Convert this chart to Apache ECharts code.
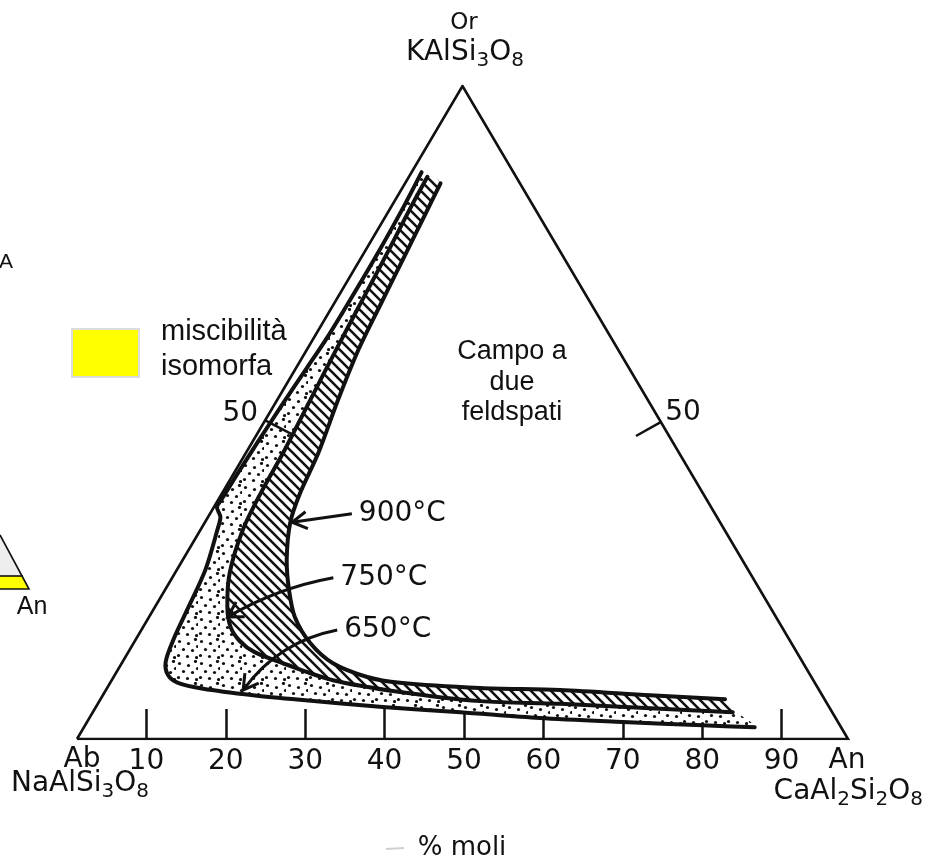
<!DOCTYPE html>
<html><head><meta charset="utf-8">
<script src="https://cdn.jsdelivr.net/npm/echarts@6/dist/echarts.min.js"></script>
<style>html,body{margin:0;padding:0;background:#fff}#c{width:930px;height:861px}</style>
</head><body><div id="c"></div>
<script>
// Ternary compositions given as [An %, Or %]  (Ab % = 100 - An - Or)
const vertexAb = [0, 0];
const vertexAn = [100, 0];
const vertexOr = [0, 100];

// solvus curves (limits of the two-feldspar field) at three temperatures
const solvus650 = [[1.3,86.8],[1.6,81.8],[1.8,74.9],[1.8,67.2],[1.7,61.4],[1.4,56.8],[1.0,51.1],[0.7,45.3],[0.5,40.4],[0.4,36.6],[0.4,35.5],[1.6,34.0],[2.2,32.0],[3.7,25.9],[4.4,19.8],[4.9,15.2],[5.6,11.8],[6.9,9.8],[8.8,8.6],[12.5,7.7],[19.5,6.7],[25.9,6.0],[37.2,4.9],[47.7,4.1],[58.4,3.2],[69.5,2.6],[80.1,2.1],[87.0,1.8]];
const solvus750 = [[2.4,86.1],[2.6,81.0],[3.0,74.9],[3.4,67.2],[3.8,59.6],[4.3,51.9],[4.8,44.3],[5.0,37.7],[5.5,32.0],[7.1,25.4],[9.4,20.2],[11.3,17.2],[13.6,15.0],[16.4,13.3],[20.9,11.6],[28.7,9.0],[38.3,7.2],[49.4,5.8],[60.0,5.4],[72.0,4.7],[83.0,4.1]];
const solvus900 = [[4.6,85.1],[5.0,80.2],[5.5,74.1],[6.1,66.5],[6.7,59.6],[7.9,51.9],[9.4,43.8],[10.1,37.7],[11.1,33.1],[13.5,27.4],[16.1,22.8],[18.9,18.7],[22.9,14.7],[27.4,11.6],[32.9,9.5],[37.6,8.6],[48.4,7.8],[58.9,7.5],[71.0,6.7],[81.0,6.1]];

// base scale (% An) tick labels
const baseTicks = [10, 20, 30, 40, 50, 60, 70, 80, 90];

// 50 % marks on the two other sides: [start on edge, end inside]
const edgeTickLabels = ['50', '50'];
const edgeTickFrom = [[0, 48.8], [51.4, 48.5]];
const edgeTickTo = [[4.5, 46.7], [49.3, 46.4]];

// temperature labels with arrows: [start, tip]
const arrowLabels = ['900°C', '750°C', '650°C'];
const arrowFrom = [[18.4, 34.5], [20.9, 24.7], [25.4, 16.7]];
const arrowTo = [[11.3, 33.2], [10.2, 18.7], [17.8, 7.5]];

// ---------------------------------------------------------------
function toXY(p) { return [p[0] + p[1] / 2, p[1]]; }

function makeHatch() {
  const s = 10, c = document.createElement('canvas');
  c.width = s; c.height = s;
  const g = c.getContext('2d');
  g.fillStyle = '#fff'; g.fillRect(0, 0, s, s);
  g.strokeStyle = '#111'; g.lineWidth = 2.6;
  g.beginPath();
  g.moveTo(-1, -1); g.lineTo(s + 1, s + 1);
  g.moveTo(-1, s - 1); g.lineTo(1, s + 1);
  g.moveTo(s - 1, -1); g.lineTo(s + 1, 1);
  g.stroke();
  return c;
}
function makeStipple() {
  const s = 22, c = document.createElement('canvas');
  c.width = s; c.height = s;
  const g = c.getContext('2d');
  g.fillStyle = '#fff'; g.fillRect(0, 0, s, s);
  g.fillStyle = '#111';
  [[3,3],[12,5],[19,1],[7,11],[16,12],[2,17],[11,18],[20,19],[21,8]].forEach(function (d) {
    g.beginPath(); g.arc(d[0] + 0.5, d[1] + 0.5, 1.6, 0, Math.PI * 2); g.fill();
  });
  return c;
}
const hatchImg = makeHatch();
const stippleImg = makeStipple();

const FONT = '"DejaVu Sans", sans-serif';
const ARIAL = '"Liberation Sans", Arial, sans-serif';
const INK = '#111';

function band(a, b, img) {
  return function (params, api) {
    const pts = a.concat(b.slice().reverse()).map(function (p) { return api.coord(toXY(p)); });
    return { type: 'polygon', shape: { points: pts, smooth: 0.3 },
      style: { fill: { image: img, repeat: 'repeat' }, stroke: null } };
  };
}

function curvesRender(params, api) {
  const children = [solvus650, solvus750, solvus900].map(function (c) {
    return { type: 'polyline', shape: { points: c.map(function (p) { return api.coord(toXY(p)); }), smooth: 0.3 },
      style: { stroke: INK, lineWidth: 4, fill: null, lineCap: 'round', lineJoin: 'round' } };
  });
  return { type: 'group', children: children };
}

const arrowBend = [0, -10, -22];
function arrowsRender(params, api) {
  const ch = [];
  arrowLabels.forEach(function (lab, i) {
    const s = api.coord(toXY(arrowFrom[i])), e = api.coord(toXY(arrowTo[i]));
    const dx = e[0] - s[0], dy = e[1] - s[1], L = Math.hypot(dx, dy);
    const nx = dy / L, ny = -dx / L;
    const cx = (s[0] + e[0]) / 2 + nx * arrowBend[i], cy = (s[1] + e[1]) / 2 + ny * arrowBend[i];
    const tx = e[0] - cx, ty = e[1] - cy, tl = Math.hypot(tx, ty), ux = tx / tl, uy = ty / tl;
    const a = Math.PI / 6, hl = 17, ca = Math.cos(a), sa = Math.sin(a);
    const b1 = [e[0] - hl * (ux * ca - uy * sa), e[1] - hl * (uy * ca + ux * sa)];
    const b2 = [e[0] - hl * (ux * ca + uy * sa), e[1] - hl * (uy * ca - ux * sa)];
    ch.push({ type: 'bezierCurve', shape: { x1: s[0], y1: s[1], x2: e[0], y2: e[1], cpx1: cx, cpy1: cy },
      style: { stroke: INK, lineWidth: 3, fill: null } });
    ch.push({ type: 'polyline', shape: { points: [b1, e, b2] }, style: { stroke: INK, lineWidth: 3, fill: null } });
    ch.push({ type: 'text', x: s[0] + 7, y: s[1],
      style: { text: lab, font: '28px ' + FONT, fill: INK, align: 'left', verticalAlign: 'middle' } });
  });
  return { type: 'group', children: ch };
}

function edgeTicksRender(params, api) {
  const ch = [];
  edgeTickLabels.forEach(function (lab, i) {
    const s = api.coord(toXY(edgeTickFrom[i])), e = api.coord(toXY(edgeTickTo[i]));
    ch.push({ type: 'line', shape: { x1: s[0], y1: s[1], x2: e[0], y2: e[1] }, style: { stroke: INK, lineWidth: 2.5 } });
    const left = i === 0;
    ch.push({ type: 'text', x: s[0] + (left ? -7 : 5), y: s[1] + (left ? -7 : -10),
      style: { text: lab, font: '28px ' + FONT, fill: INK, align: left ? 'right' : 'left', verticalAlign: 'middle' } });
  });
  return { type: 'group', children: ch };
}

const richF = {
  n: { fontSize: 28, fontFamily: FONT, color: INK },
  s: { fontSize: 20, fontFamily: FONT, color: INK, padding: [15, 0, 0, 0] }
};
function formulaText(x, y, text, align) {
  return { type: 'text', x: x, y: y, silent: true,
    style: { text: text, rich: richF, align: align, verticalAlign: 'middle', fill: INK } };
}
function plainText(x, y, text, size, fam, align) {
  return { type: 'text', x: x, y: y, silent: true,
    style: { text: text, font: size + 'px ' + fam, fill: INK, align: align || 'center', verticalAlign: 'middle' } };
}

const chart = echarts.init(document.getElementById('c'), null, { renderer: 'canvas' });
chart.setOption({
  animation: false,
  backgroundColor: '#fff',
  grid: [
    { left: 77, top: 86, width: 771, height: 653 },
    { left: 67, top: 86, width: 794, height: 653 }
  ],
  xAxis: [
    { gridIndex: 0, type: 'value', min: 0, max: 100, show: false },
    { gridIndex: 1, type: 'value', min: 0, max: 100, interval: 10, position: 'bottom',
      axisLine: { show: false }, splitLine: { show: false },
      axisTick: { show: true, inside: true, length: 30, customValues: baseTicks, lineStyle: { color: INK, width: 2.5 } },
      axisLabel: { show: true, inside: false, margin: 9, customValues: baseTicks, fontSize: 28, fontFamily: FONT, color: INK } }
  ],
  yAxis: [
    { gridIndex: 0, type: 'value', min: 0, max: 100, show: false },
    { gridIndex: 1, type: 'value', min: 0, max: 100, show: false }
  ],
  series: [
    { type: 'custom', name: 'stipple', coordinateSystem: 'cartesian2d', xAxisIndex: 0, yAxisIndex: 0,
      data: [[0, 0]], z: 3, silent: true, clip: false, renderItem: band(solvus650, solvus750, stippleImg) },
    { type: 'custom', name: 'hatch', coordinateSystem: 'cartesian2d', xAxisIndex: 0, yAxisIndex: 0,
      data: [[0, 0]], z: 3, silent: true, clip: false, renderItem: band(solvus750, solvus900, hatchImg) },
    { type: 'line', name: 'triangle', xAxisIndex: 0, yAxisIndex: 0, z: 5, silent: true,
      data: [vertexAb, vertexAn, vertexOr, vertexAb].map(toXY), symbol: 'none',
      lineStyle: { color: INK, width: 2.6, join: 'miter' } },
    { type: 'custom', name: 'curves', coordinateSystem: 'cartesian2d', xAxisIndex: 0, yAxisIndex: 0,
      data: [[0, 0]], z: 6, silent: true, clip: false, renderItem: curvesRender },
    { type: 'custom', name: 'edgeTicks', coordinateSystem: 'cartesian2d', xAxisIndex: 0, yAxisIndex: 0,
      data: [[0, 0]], z: 6, silent: true, clip: false, renderItem: edgeTicksRender },
    { type: 'custom', name: 'arrows', coordinateSystem: 'cartesian2d', xAxisIndex: 0, yAxisIndex: 0,
      data: [[0, 0]], z: 7, silent: true, clip: false, renderItem: arrowsRender }
  ],
  graphic: [
    plainText(464, 23, 'Or', 23, FONT),
    formulaText(465, 53, '{n|KAlSi}{s|3}{n|O}{s|8}', 'center'),
    plainText(82, 760, 'Ab', 28, FONT),
    formulaText(11, 784, '{n|NaAlSi}{s|3}{n|O}{s|8}', 'left'),
    plainText(847, 761, 'An', 28, FONT),
    formulaText(923, 792, '{n|CaAl}{s|2}{n|Si}{s|2}{n|O}{s|8}', 'right'),
    plainText(462, 848, '% moli', 26, FONT),
    { type: 'line', shape: { x1: 386, y1: 849, x2: 404, y2: 848 }, style: { stroke: '#d0d0d0', lineWidth: 2 }, silent: true },
    plainText(161, 332, 'miscibilità', 29, ARIAL, 'left'),
    plainText(161, 367, 'isomorfa', 29, ARIAL, 'left'),
    plainText(512, 352, 'Campo a', 27, ARIAL),
    plainText(512, 383, 'due', 27, ARIAL),
    plainText(512, 413, 'feldspati', 27, ARIAL),
    { type: 'rect', shape: { x: 72, y: 329, width: 67, height: 48 }, style: { fill: '#ffff00', stroke: '#dcdcdc', lineWidth: 2 }, silent: true },
    // partial inset at the left border
    { type: 'polygon', shape: { points: [[0, 535], [23, 576], [0, 576]] }, style: { fill: '#eeeeee' }, silent: true },
    { type: 'polygon', shape: { points: [[0, 576], [23, 576], [29, 589], [0, 589]] }, style: { fill: '#ffff00' }, silent: true },
    { type: 'polyline', shape: { points: [[0, 535], [29, 589], [0, 589]] }, style: { stroke: INK, lineWidth: 1.6, fill: null }, silent: true },
    { type: 'line', shape: { x1: 0, y1: 576, x2: 23, y2: 576 }, style: { stroke: INK, lineWidth: 1.6 }, silent: true },
    plainText(32, 607, 'An', 25, ARIAL),
    plainText(-1, 262, 'A', 21, ARIAL, 'left')
  ]
});
</script>
</body></html>
